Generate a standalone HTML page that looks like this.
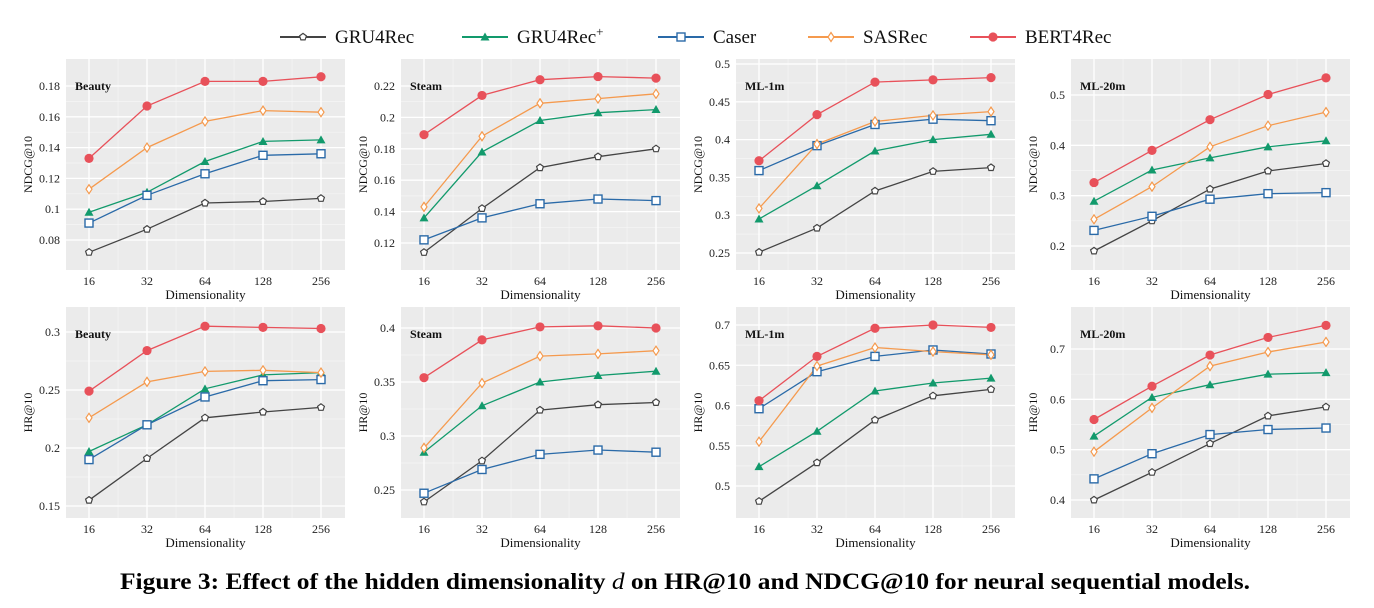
<!DOCTYPE html>
<html><head><meta charset="utf-8"><style>
body{margin:0;background:#fff;}
svg{display:block;font-family:"Liberation Serif",serif;}
</style></head><body>
<svg id="c" width="1374" height="608" xmlns="http://www.w3.org/2000/svg"></svg>
<script>
const categories=["16","32","64","128","256"];
const seriesNames=["GRU4Rec","GRU4Rec+","Caser","SASRec","BERT4Rec"];
const beautyNdcg=[[0.072,0.087,0.104,0.105,0.107],[0.098,0.111,0.131,0.144,0.145],[0.091,0.109,0.123,0.135,0.136],[0.113,0.140,0.157,0.164,0.163],[0.133,0.167,0.183,0.183,0.186]];
const steamNdcg=[[0.114,0.142,0.168,0.175,0.180],[0.136,0.178,0.198,0.203,0.205],[0.122,0.136,0.145,0.148,0.147],[0.143,0.188,0.209,0.212,0.215],[0.189,0.214,0.224,0.226,0.225]];
const ml1mNdcg=[[0.251,0.283,0.332,0.358,0.363],[0.295,0.339,0.385,0.400,0.407],[0.359,0.392,0.420,0.427,0.425],[0.309,0.394,0.424,0.432,0.437],[0.372,0.433,0.476,0.479,0.482]];
const ml20mNdcg=[[0.190,0.250,0.313,0.349,0.364],[0.289,0.351,0.375,0.397,0.409],[0.231,0.259,0.293,0.304,0.306],[0.253,0.318,0.397,0.439,0.466],[0.326,0.390,0.451,0.501,0.534]];
const beautyHr=[[0.155,0.191,0.226,0.231,0.235],[0.197,0.220,0.251,0.263,0.265],[0.190,0.220,0.244,0.258,0.259],[0.226,0.257,0.266,0.267,0.265],[0.249,0.284,0.305,0.304,0.303]];
const steamHr=[[0.239,0.277,0.324,0.329,0.331],[0.285,0.328,0.350,0.356,0.360],[0.247,0.269,0.283,0.287,0.285],[0.289,0.349,0.374,0.376,0.379],[0.354,0.389,0.401,0.402,0.400]];
const ml1mHr=[[0.481,0.529,0.582,0.612,0.620],[0.524,0.568,0.618,0.628,0.634],[0.596,0.642,0.661,0.669,0.664],[0.555,0.649,0.672,0.667,0.663],[0.606,0.661,0.696,0.700,0.697]];
const ml20mHr=[[0.400,0.455,0.512,0.567,0.585],[0.527,0.604,0.629,0.650,0.653],[0.442,0.492,0.530,0.540,0.543],[0.496,0.583,0.666,0.694,0.714],[0.560,0.626,0.688,0.723,0.747]];
const ticksBeautyNdcg=["0.08","0.1","0.12","0.14","0.16","0.18"];
const ticksSteamNdcg=["0.12","0.14","0.16","0.18","0.2","0.22"];
const ticksMl1mNdcg=["0.25","0.3","0.35","0.4","0.45","0.5"];
const ticksMl20mNdcg=["0.2","0.3","0.4","0.5"];
const ticksBeautyHr=["0.15","0.2","0.25","0.3"];
const ticksSteamHr=["0.25","0.3","0.35","0.4"];
const ticksMl1mHr=["0.5","0.55","0.6","0.65","0.7"];
const ticksMl20mHr=["0.4","0.5","0.6","0.7"];

const colors=["#444444","#129a6c","#2a6aa8","#f59a4e","#e8515a"];
const NS="http://www.w3.org/2000/svg";
const svg=document.getElementById('c');
function mk(t,a,p){const e=document.createElementNS(NS,t);for(const k in a)e.setAttribute(k,a[k]);(p||svg).appendChild(e);return e;}

function marker(g,i,x,y){
  const c=colors[i];let e;
  if(i===0){let pts=[];for(let k=0;k<5;k++){const a=-Math.PI/2+k*2*Math.PI/5;pts.push((x+3.6*Math.cos(a)).toFixed(1)+","+(y+3.6*Math.sin(a)).toFixed(1));}
    e=mk('polygon',{points:pts.join(' '),fill:'#fff',stroke:c,'stroke-width':1.2},g);}
  else if(i===1){e=mk('polygon',{points:`${x},${y-4.5} ${x+4.5},${y+3.5} ${x-4.5},${y+3.5}`,fill:c},g);}
  else if(i===2){e=mk('rect',{x:x-4,y:y-4,width:8,height:8,fill:'#fff',stroke:c,'stroke-width':1.4},g);}
  else if(i===3){e=mk('polygon',{points:`${x},${y-4.5} ${x+3},${y} ${x},${y+4.5} ${x-3},${y}`,fill:'#fff',stroke:c,'stroke-width':1.2},g);}
  else {e=mk('circle',{cx:x,cy:y,r:4.6,fill:c},g);}
  return e;
}

const panels=[
 [beautyNdcg,ticksBeautyNdcg,"Beauty","NDCG@10",0,0,240,86],
 [steamNdcg,ticksSteamNdcg,"Steam","NDCG@10",1,0,243,86],
 [ml1mNdcg,ticksMl1mNdcg,"ML-1m","NDCG@10",2,0,253,64],
 [ml20mNdcg,ticksMl20mNdcg,"ML-20m","NDCG@10",3,0,246,95],
 [beautyHr,ticksBeautyHr,"Beauty","HR@10",0,1,506,332],
 [steamHr,ticksSteamHr,"Steam","HR@10",1,1,490,328],
 [ml1mHr,ticksMl1mHr,"ML-1m","HR@10",2,1,486,325],
 [ml20mHr,ticksMl20mHr,"ML-20m","HR@10",3,1,500,349]
];
panels.forEach((p,pi)=>{
  const [data,ticks,title,ylab,col,row,pLo,pHi]=p;
  const L=66+col*335, R=L+279, T=59+row*248, B=T+211;
  const vLo=parseFloat(ticks[0]), vHi=parseFloat(ticks[ticks.length-1]);
  const y=v=>pLo+(v-vLo)*(pHi-pLo)/(vHi-vLo);
  const x=i=>L+23+i*58;
  const g=mk('g',{});
  
  
  const bg=mk('rect',{x:L,y:T,width:R-L,height:B-T,fill:'#ebebeb'},g);
  
  const step=(vHi-vLo)/(ticks.length-1);
  for(let k=0;k<ticks.length-1;k++){const yy=y(vLo+step*(k+0.5));mk('line',{x1:L,x2:R,y1:yy,y2:yy,stroke:'#f6f6f6','stroke-width':0.7},g);}
  for(let i=0;i<4;i++){const xx=(x(i)+x(i+1))/2;mk('line',{x1:xx,x2:xx,y1:T,y2:B,stroke:'#f6f6f6','stroke-width':0.7},g);}
  ticks.forEach(t=>{const yy=y(parseFloat(t));mk('line',{x1:L,x2:R,y1:yy,y2:yy,stroke:'#fff','stroke-width':1.3},g);
    const tl=mk('text',{x:L-6,y:yy+4,'text-anchor':'end','font-size':12,fill:'#222'},g);tl.textContent=t;
    });
  categories.forEach((c,i)=>{mk('line',{x1:x(i),x2:x(i),y1:T,y2:B,stroke:'#fff','stroke-width':1.3},g);
    const tl=mk('text',{x:x(i),y:B+15,'text-anchor':'middle','font-size':12,fill:'#222'},g);tl.textContent=c;
    });
  const xt=mk('text',{x:(L+R)/2,y:B+29,'text-anchor':'middle','font-size':13,fill:'#111'},g);xt.textContent="Dimensionality";
  
  const yt=mk('text',{x:0,y:0,'text-anchor':'middle','font-size':12,fill:'#111',transform:`translate(${L-34},${(T+B)/2}) rotate(-90)`},g);yt.textContent=ylab;
  
  const tt=mk('text',{x:L+9,y:T+31,'font-size':12,'font-weight':'bold',fill:'#111'},g);tt.textContent=title;
  
  data.forEach((s,si)=>{
    const pl=mk('polyline',{points:s.map((v,i)=>x(i)+","+y(v).toFixed(1)).join(' '),fill:'none',stroke:colors[si],'stroke-width':1.3},g);
    
    
  });
  data.forEach((s,si)=>{s.forEach((v,i)=>{const m=marker(g,si,x(i),y(v));
    
    });});
});
const lx=[280,462,658,808,970];
const lg=mk('g',{});
seriesNames.forEach((n,i)=>{
  const e=mk('g',{},lg);
  
  
  mk('line',{x1:lx[i],x2:lx[i]+46,y1:37,y2:37,stroke:colors[i],'stroke-width':2},e);
  marker(e,i,lx[i]+23,37);
  const t=mk('text',{x:lx[i]+55,y:43,'font-size':19,fill:'#111'},e);
  if(n==="GRU4Rec+"){t.textContent="GRU4Rec";const s=mk('tspan',{dy:-7,'font-size':13},t);s.textContent="+";}
  else t.textContent=n;
});
const cap=mk('text',{x:120,y:589,'font-size':23,'font-weight':'bold',fill:'#000',textLength:1130,lengthAdjust:'spacingAndGlyphs'});

cap.innerHTML='Figure 3: Effect of the hidden dimensionality <tspan font-style="italic" font-weight="normal">d</tspan> on HR@10 and NDCG@10 for neural sequential models.';
</script>
</body></html>
